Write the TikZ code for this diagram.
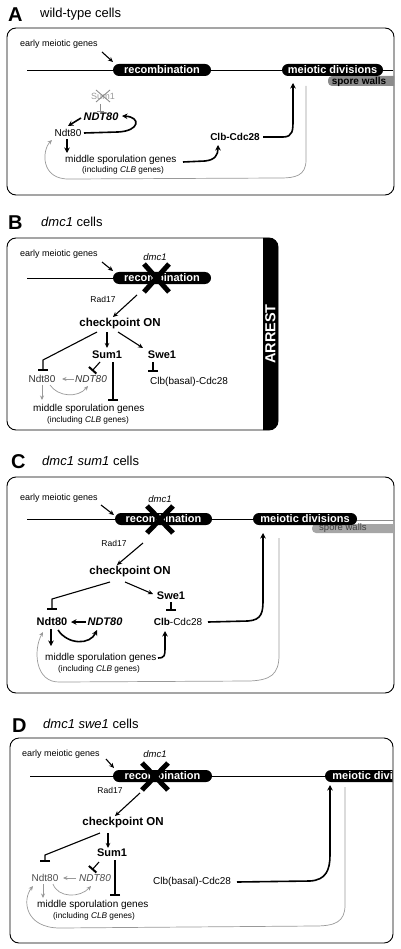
\documentclass[tikz,border=0pt]{standalone}
\usepackage{fontspec}
\setmainfont{Liberation Sans}
\usetikzlibrary{arrows.meta}
\newcommand\fsz[1]{\fontsize{#1}{#1}\selectfont}
\begin{document}
\begin{tikzpicture}[x=1pt,y=-1pt,
  panel/.style={draw=black, line width=0.9pt, rounded corners=9pt},
  tl/.style={line width=0.8pt},
  pill/.style={fill=black, text=white, rounded corners=6pt, minimum height=12pt, inner sep=0pt, font=\fsz{11}\bfseries},
  lab/.style={inner sep=0pt, font=\fsz{10}},
  small/.style={inner sep=0pt, font=\fsz{8.3}},
  early/.style={inner sep=0pt, font=\fsz{9}, anchor=base west},
  plet/.style={inner sep=0pt, font=\fsz{20}\bfseries, anchor=base west},
  ptitle/.style={inner sep=0pt, font=\fsz{13}, anchor=base west},
  bld/.style={inner sep=0pt, font=\fsz{11}\bfseries},
  chk/.style={inner sep=0pt, font=\fsz{11.5}\bfseries},
  gline/.style={draw=black!40, line width=0.7pt},
  garr/.style={gline, -{Stealth[length=4.5pt,width=4pt]}},
  tarr/.style={line width=1.6pt, -{Stealth[length=5.5pt,width=5.5pt]}},
  marr/.style={line width=1.1pt, -{Stealth[length=5pt,width=4.5pt]}},
  inh/.style={line width=1.1pt, -{Bar[width=10pt,line width=2pt]}},
  xmark/.style={line width=5pt}
]
\useasboundingbox (0,0) rectangle (400,949);

% ================= Panel A =================
\node[plet] (letA) at (8,22) {A};
\node[ptitle] (titA) at (40,18) {wild-type cells};
\draw[panel] (7,28) rectangle (394,195);
\node[early] (earlyA) at (20,47) {early meiotic genes};
\draw[tl] (27,70) -- (393,70);
\begin{scope}
  \clip[rounded corners=9pt] (7,28) rectangle (394,195);
  \fill[black!45, rounded corners=4pt] (328,76) rectangle (402,86);
\end{scope}
\node[inner sep=0pt, font=\fsz{10}\bfseries] (swA) at (359,81.5) {spore walls};
\node[pill, minimum width=98pt] (recA) at (162,70) {recombination};
\node[pill, minimum width=101pt] (meiA) at (332.5,70) {meiotic divisions};
\draw[marr] (102,52) -- (113,62);
\node[inner sep=0pt, font=\fsz{9}, text=black!40] (sumA) at (103,96) {Sum1};
\draw[black!45, line width=0.9pt] (96,90) -- (110,102) (96,102) -- (110,90);
\draw[black!45, line width=0.7pt, -{Bar[width=7pt,line width=0.8pt]}] (100,104) -- (100,112);
\node[inner sep=0pt, font=\fsz{11}\bfseries\itshape] (NDTA) at (101,117) {NDT80};
\node[lab] (ndtA) at (68,133) {Ndt80};
\draw[tarr] (81,118) -- (68,126);
\draw[tarr] (84,133) -- (118,132) .. controls (140,131) and (141,117) .. (122,116);
\draw[tarr] (67,139) -- (67,153);
\node[lab, anchor=base west] (midA) at (65,163) {middle sporulation genes};
\node[small, anchor=base west] (incA) at (82,173) {(including \textit{CLB} genes)};
\node[inner sep=0pt, font=\fsz{10}\bfseries] (clbA) at (235,137) {Clb-Cdc28};
\draw[tarr] (183,162) -- (205,161) .. controls (215,160) and (218,155) .. (218,145);
\draw[tarr] (263,137) -- (283,137) .. controls (293,137) and (293,130) .. (293,120) -- (293,83);
\draw[garr] (306,86) -- (306,160) .. controls (306,176) and (295,178) .. (280,178) -- (70,179) .. controls (40,180) and (42,150) .. (52,140);

% ================= Panel B =================
\node[plet] (letB) at (8,230) {B};
\node[ptitle] (titB) at (41,227) {\textit{dmc1} cells};
\begin{scope}
  \clip[rounded corners=9pt] (7,238) rectangle (278,430);
  \fill (263,230) rectangle (285,440);
\end{scope}
\draw[panel] (7,238) rectangle (278,430);
\node[rotate=90, text=white, inner sep=0pt, font=\fsz{14.5}\bfseries] (arrB) at (270.5,334) {ARREST};
\node[early] (earlyB) at (20,257) {early meiotic genes};
\node[inner sep=0pt, font=\fsz{9.5}\itshape] (dmcB) at (155,257) {dmc1};
\draw[tl] (27,278) -- (114,278);
\node[pill, minimum width=98pt] (recB) at (162,278) {recombination};
\draw[xmark] (144,264) -- (169,292) (169,264) -- (144,292);
\draw[marr] (102,262) -- (113,271);
\node[inner sep=0pt, font=\fsz{8.5}] (radB) at (103,299) {Rad17};
\draw[marr] (137,295) -- (113,317);
\node[chk] (chkB) at (120,324) {checkpoint ON};
\draw[inh] (97,332) -- (43,360) -- (43,371);
\draw[marr] (107,332) -- (107,348);
\draw[marr] (118,332) -- (143,348);
\node[bld] (sumB) at (107,355) {Sum1};
\node[bld] (sweB) at (162,355) {Swe1};
\draw[inh] (100,362) -- (92,371);
\draw[inh] (113,362) -- (113,401);
\draw[inh] (153,362) -- (153,372);
\node[lab, text=black!80] (ndtB) at (42,379) {Ndt80};
\node[lab, text=black!80, font=\fsz{10}\itshape] (NDTB) at (91,379) {NDT80};
\draw[garr] (74,379) -- (62,379);
\draw[garr] (42,385) -- (42,400);
\draw[garr] (50,385) .. controls (58,397) and (78,398) .. (88,386);
\node[lab, anchor=west] (clbB) at (150,382) {Clb(basal)-Cdc28};
\node[lab, anchor=base west] (midB) at (33,411) {middle sporulation genes};
\node[small, anchor=base west] (incB) at (47,422) {(including \textit{CLB} genes)};

% ================= Panel C =================
\node[plet] (letC) at (11,468) {C};
\node[ptitle] (titC) at (42,465) {\textit{dmc1 sum1} cells};
\draw[panel] (7,477) rectangle (394,693);
\node[early] (earlyC) at (20,500) {early meiotic genes};
\node[inner sep=0pt, font=\fsz{9.5}\itshape] (dmcC) at (160,499) {dmc1};
\draw[tl] (27,519) -- (300,519);
\begin{scope}
  \clip[rounded corners=9pt] (7,477) rectangle (394,693);
  \draw[black!45, line width=1pt] (340,520.5) -- (400,520.5);
  \fill[black!35, rounded corners=4pt] (312,524) rectangle (402,533);
\end{scope}
\node[inner sep=0pt, font=\fsz{9.5}, text=black!75] (swC) at (343,528.5) {spore walls};
\node[pill, minimum width=97pt] (recC) at (163.5,519) {recombination};
\node[pill, minimum width=104pt] (meiC) at (305,519) {meiotic divisions};
\draw[xmark] (147,506) -- (173,533) (173,506) -- (147,533);
\draw[marr] (101,505) -- (114,515);
\node[inner sep=0pt, font=\fsz{8.5}] (radC) at (114,543) {Rad17};
\draw[marr] (143,543) -- (117,565);
\node[chk] (chkC) at (130,572) {checkpoint ON};
\draw[inh] (110,582) -- (52,599) -- (52,610);
\draw[marr] (125,582) -- (153,594);
\node[bld] (sweC) at (171,596) {Swe1};
\draw[inh] (171,602) -- (171,611);
\node[inner sep=0pt, font=\fsz{11}\bfseries] (ndtC) at (52,622) {Ndt80};
\node[inner sep=0pt, font=\fsz{11}\bfseries\itshape] (NDTC) at (105,622) {NDT80};
\draw[tarr] (86,622) -- (71,622);
\node[lab] (clbC) at (178,622) {\textbf{Clb}-Cdc28};
\draw[tarr] (51,629) -- (51,646);
\draw[tarr] (58,630) .. controls (68,645) and (90,645) .. (97,630);
\node[lab, anchor=base west] (midC) at (45,660) {middle sporulation genes};
\node[small, anchor=base west] (incC) at (58,671) {(including \textit{CLB} genes)};
\draw[tarr] (158,658) .. controls (165,658) and (165,655) .. (165,648) -- (165,631);
\draw[tarr] (208,622) -- (248,621) .. controls (262,620) and (263,612) .. (263,600) -- (263,533);
\draw[garr] (279,538) -- (279,655) .. controls (279,675) and (270,680) .. (250,681) -- (60,682) .. controls (35,683) and (33,650) .. (43,632);

% ================= Panel D =================
\node[plet] (letD) at (12,732) {D};
\node[ptitle] (titD) at (43,728) {\textit{dmc1 swe1} cells};
\node[early] (earlyD) at (22,756) {early meiotic genes};
\node[inner sep=0pt, font=\fsz{9.5}\itshape] (dmcD) at (155,754) {dmc1};
\draw[tl] (30,776) -- (330,776);
\node[pill, minimum width=99pt] (recD) at (162.5,776) {recombination};
\begin{scope}
  \clip (0,700) rectangle (392.5,800);
  \node[pill, minimum width=104pt] (meiD) at (377,776) {meiotic divisions};
\end{scope}
\draw[panel] (10,738) rectangle (393,943);
\draw[xmark] (142,763) -- (168,790) (168,763) -- (142,790);
\draw[marr] (106,759) -- (114,768);
\node[inner sep=0pt, font=\fsz{8.5}] (radD) at (110,790) {Rad17};
\draw[marr] (140,793) -- (115,816);
\node[chk] (chkD) at (123,823) {checkpoint ON};
\draw[inh] (100,833) -- (45,855) -- (45,862);
\draw[marr] (108,833) -- (108,848);
\node[bld] (sumD) at (112,853) {Sum1};
\draw[inh] (99,862) -- (92,870);
\draw[inh] (115,860) -- (115,896);
\node[lab, text=black!70] (ndtD) at (45,878) {Ndt80};
\node[lab, text=black!70, font=\fsz{10}\itshape] (NDTD) at (95,878) {NDT80};
\draw[garr] (76,878) -- (63,878);
\draw[garr] (43,884) -- (43,898);
\draw[garr] (53,884) .. controls (58,898) and (80,898) .. (91,886);
\node[lab, anchor=west] (clbD) at (153,882) {Clb(basal)-Cdc28};
\draw[tarr] (237,882) -- (310,881) .. controls (326,880) and (330,870) .. (330,855) -- (330,785);
\draw[garr] (345,787) -- (345,905) .. controls (345,922) and (335,926) .. (315,926) -- (60,928) .. controls (25,928) and (22,900) .. (33,886);
\node[lab, anchor=base west] (midD) at (37,907) {middle sporulation genes};
\node[small, anchor=base west] (incD) at (53,918) {(including \textit{CLB} genes)};
\end{tikzpicture}
\end{document}
